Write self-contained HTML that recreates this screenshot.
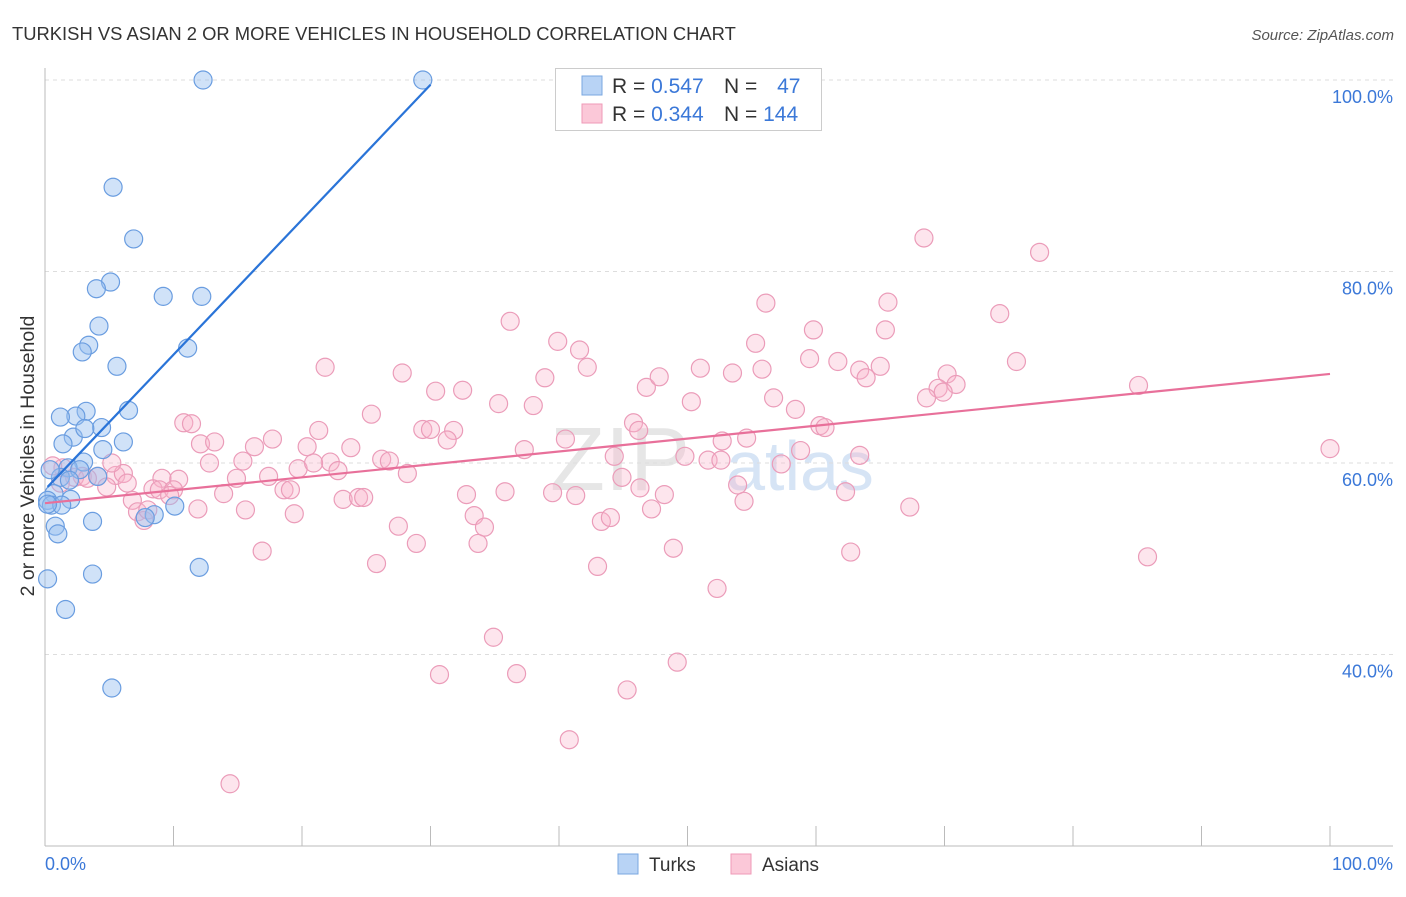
<!DOCTYPE html>
<html><head><meta charset="utf-8"><style>
body{margin:0;background:#fff;font-family:"Liberation Sans",sans-serif;}
svg text{font-family:"Liberation Sans",sans-serif;}
</style></head><body>
<svg id="chart" width="1406" height="892">
<text x="12" y="40" font-size="18.4" fill="#333">TURKISH VS ASIAN 2 OR MORE VEHICLES IN HOUSEHOLD CORRELATION CHART</text>
<text x="1394" y="40" font-size="15" fill="#555" font-style="italic" text-anchor="end">Source: ZipAtlas.com</text>
<text x="620" y="490" font-size="90" fill="#e6e6e6" font-family="Liberation Serif" text-anchor="middle">ZIP</text>
<text x="800" y="490" font-size="70" fill="#d6e4f5" text-anchor="middle">atlas</text>
<g id="grid"></g><g id="axes"></g><g id="pink"></g><g id="blue"></g><g id="lines"></g>
<g>
<rect x="555.5" y="68.5" width="266" height="62" fill="#fff" stroke="#ccc"/>
<rect x="582" y="76" width="20" height="19" fill="#b8d3f5" stroke="#7aa7e0"/>
<rect x="582" y="104" width="20" height="19" fill="#fbc8d8" stroke="#ef9ab7"/>
<text x="612" y="93" font-size="21" fill="#333">R = <tspan fill="#3b78d8">0.547</tspan></text>
<text x="724" y="93" font-size="21" fill="#333">N = <tspan fill="#3b78d8" dx="14">47</tspan></text>
<text x="612" y="121" font-size="21" fill="#333">R = <tspan fill="#3b78d8">0.344</tspan></text>
<text x="724" y="121" font-size="21" fill="#333">N = <tspan fill="#3b78d8">144</tspan></text>
</g>
<g>
<rect x="618" y="854" width="20" height="20" fill="#b8d3f5" stroke="#7aa7e0"/>
<text x="649" y="871" font-size="19" fill="#333">Turks</text>
<rect x="731" y="854" width="20" height="20" fill="#fbc8d8" stroke="#ef9ab7"/>
<text x="762" y="871" font-size="19" fill="#333">Asians</text>
</g>
<text transform="translate(34,456) rotate(-90)" font-size="19.5" fill="#333" text-anchor="middle">2 or more Vehicles in Household</text>
</svg>
<script>
const yTicks=[40,60,80,100];
const yTickLabels=["40.0%","60.0%","80.0%","100.0%"];
const xTickLabels=["0.0%","100.0%"];
const turksX=[12.3,29.4,5.3,6.9,5.1,4.0,9.2,12.2,4.2,3.4,2.9,11.1,5.6,6.5,3.2,2.4,1.2,2.2,4.4,3.1,1.4,6.1,4.5,3.0,1.8,1.2,4.1,0.7,2.0,0.2,0.5,8.5,10.1,7.8,3.7,0.8,1.0,3.7,12.0,0.2,1.6,5.2,0.4,1.3,0.2,2.7,1.9];
const turksY=[100,100,88.8,83.4,78.9,78.2,77.4,77.4,74.3,72.3,71.6,72.0,70.1,65.5,65.4,64.9,64.8,62.7,63.7,63.6,62.0,62.2,61.4,60.1,59.5,58.5,58.6,56.8,56.2,56.1,55.6,54.6,55.5,54.3,53.9,53.4,52.6,48.4,49.1,47.9,44.7,36.5,59.3,55.6,55.7,59.3,58.2];
const asiansX=[77.4,68.4,36.2,56.1,65.6,74.3,59.8,65.4,39.9,41.6,55.3,21.8,27.8,42.2,51.0,59.5,61.7,63.4,65.0,53.5,55.8,75.6,70.2,38.9,30.4,32.5,46.8,47.8,63.9,85.1,69.5,70.9,68.6,69.9,35.3,38.0,50.3,56.7,58.4,25.4,10.8,11.4,21.3,45.8,46.2,60.3,60.7,31.8,29.4,30.0,17.7,20.4,12.1,13.2,23.8,31.3,40.5,52.7,54.6,37.3,44.3,16.3,15.4,12.8,22.2,19.7,20.9,26.2,26.8,22.8,51.6,52.6,57.3,58.8,100,17.4,28.2,44.9,10.4,9.1,5.5,6.1,4.1,2.9,1.4,0.6,2.3,3.3,4.8,6.4,14.9,18.6,19.1,8.4,8.9,10.0,6.8,9.7,13.9,23.2,24.4,24.8,32.8,35.8,39.5,41.3,48.2,53.9,62.3,11.9,7.2,7.7,15.6,19.4,33.4,43.3,44.0,47.2,54.4,67.3,27.5,34.2,28.9,33.7,48.9,16.9,62.7,85.8,25.8,43.0,52.3,34.9,49.2,30.7,36.7,45.3,40.8,14.4,49.8,46.3,63.4,1.2,5.2,8.0];
const asiansY=[82.0,83.5,74.8,76.7,76.8,75.6,73.9,73.9,72.7,71.8,72.5,70.0,69.4,70.0,69.9,70.9,70.6,69.7,70.1,69.4,69.8,70.6,69.3,68.9,67.5,67.6,67.9,69.0,68.9,68.1,67.8,68.2,66.8,67.4,66.2,66.0,66.4,66.8,65.6,65.1,64.2,64.1,63.4,64.2,63.4,63.9,63.7,63.4,63.5,63.5,62.5,61.7,62.0,62.2,61.6,62.4,62.5,62.3,62.6,61.4,60.7,61.7,60.2,60.0,60.1,59.4,60.0,60.4,60.2,59.2,60.3,60.3,59.9,61.3,61.5,58.6,58.9,58.5,58.3,58.4,58.7,58.9,58.6,58.6,59.5,59.7,58.5,58.4,57.5,57.9,58.4,57.2,57.2,57.3,57.2,57.2,56.1,56.6,56.8,56.2,56.4,56.4,56.7,57.0,56.9,56.6,56.7,57.7,57.0,55.2,54.9,54.0,55.1,54.7,54.5,53.9,54.3,55.2,56.0,55.4,53.4,53.3,51.6,51.6,51.1,50.8,50.7,50.2,49.5,49.2,46.9,41.8,39.2,37.9,38.0,36.3,31.1,26.5,60.7,57.4,60.8,57.9,60.0,55.1];
const turksTrend=[[0.2,57.5],[30,99.5]];
const asiansTrend=[[0,55.8],[100,69.3]];

const NS="http://www.w3.org/2000/svg";
const xs=v=>45+v*12.85;
const ys=v=>1037.5-v*9.575;
function mk(parent,tag,attrs){const e=document.createElementNS(NS,tag);for(const k in attrs)e.setAttribute(k,attrs[k]);document.getElementById(parent).appendChild(e);return e;}
yTicks.forEach((t,i)=>{
  const g=mk('grid','line',{x1:45,x2:1393,y1:ys(t),y2:ys(t),stroke:'#ddd','stroke-dasharray':'4,4'});
  
  
  const l=mk('axes','text',{x:1393,y:ys(t)+23,'font-size':18,fill:'#3b78d8','text-anchor':'end'});
  l.textContent=yTickLabels[i];
  
  
});
const ax=mk('axes','line',{x1:45,x2:1393,y1:846,y2:846,stroke:'#bbb'});


const ay=mk('axes','line',{x1:45,x2:45,y1:68,y2:846,stroke:'#bbb'});


for(let i=1;i<=10;i++){
  const t=mk('axes','line',{x1:xs(i*10),x2:xs(i*10),y1:826,y2:846,stroke:'#bbb'});
  
  
}
const xl0=mk('axes','text',{x:45,y:870,'font-size':18,fill:'#3b78d8'});
xl0.textContent=xTickLabels[0];


const xl1=mk('axes','text',{x:1393,y:870,'font-size':18,fill:'#3b78d8','text-anchor':'end'});
xl1.textContent=xTickLabels[1];


asiansX.forEach((x,i)=>{
  const c=mk('pink','circle',{cx:xs(x),cy:ys(asiansY[i]),r:9,fill:'rgba(248,180,204,0.35)',stroke:'#eb9cb9','stroke-width':1.2});
  
  
});
turksX.forEach((x,i)=>{
  const c=mk('blue','circle',{cx:xs(x),cy:ys(turksY[i]),r:9,fill:'rgba(150,190,240,0.45)',stroke:'#6a9de0','stroke-width':1.2});
  
  
});
const lb=mk('lines','line',{x1:xs(turksTrend[0][0]),y1:ys(turksTrend[0][1]),x2:xs(turksTrend[1][0]),y2:ys(turksTrend[1][1]),stroke:'#2a74d8','stroke-width':2.2});


const lp=mk('lines','line',{x1:xs(asiansTrend[0][0]),y1:ys(asiansTrend[0][1]),x2:xs(asiansTrend[1][0]),y2:ys(asiansTrend[1][1]),stroke:'#e8709a','stroke-width':2.2});


</script>
</body></html>
